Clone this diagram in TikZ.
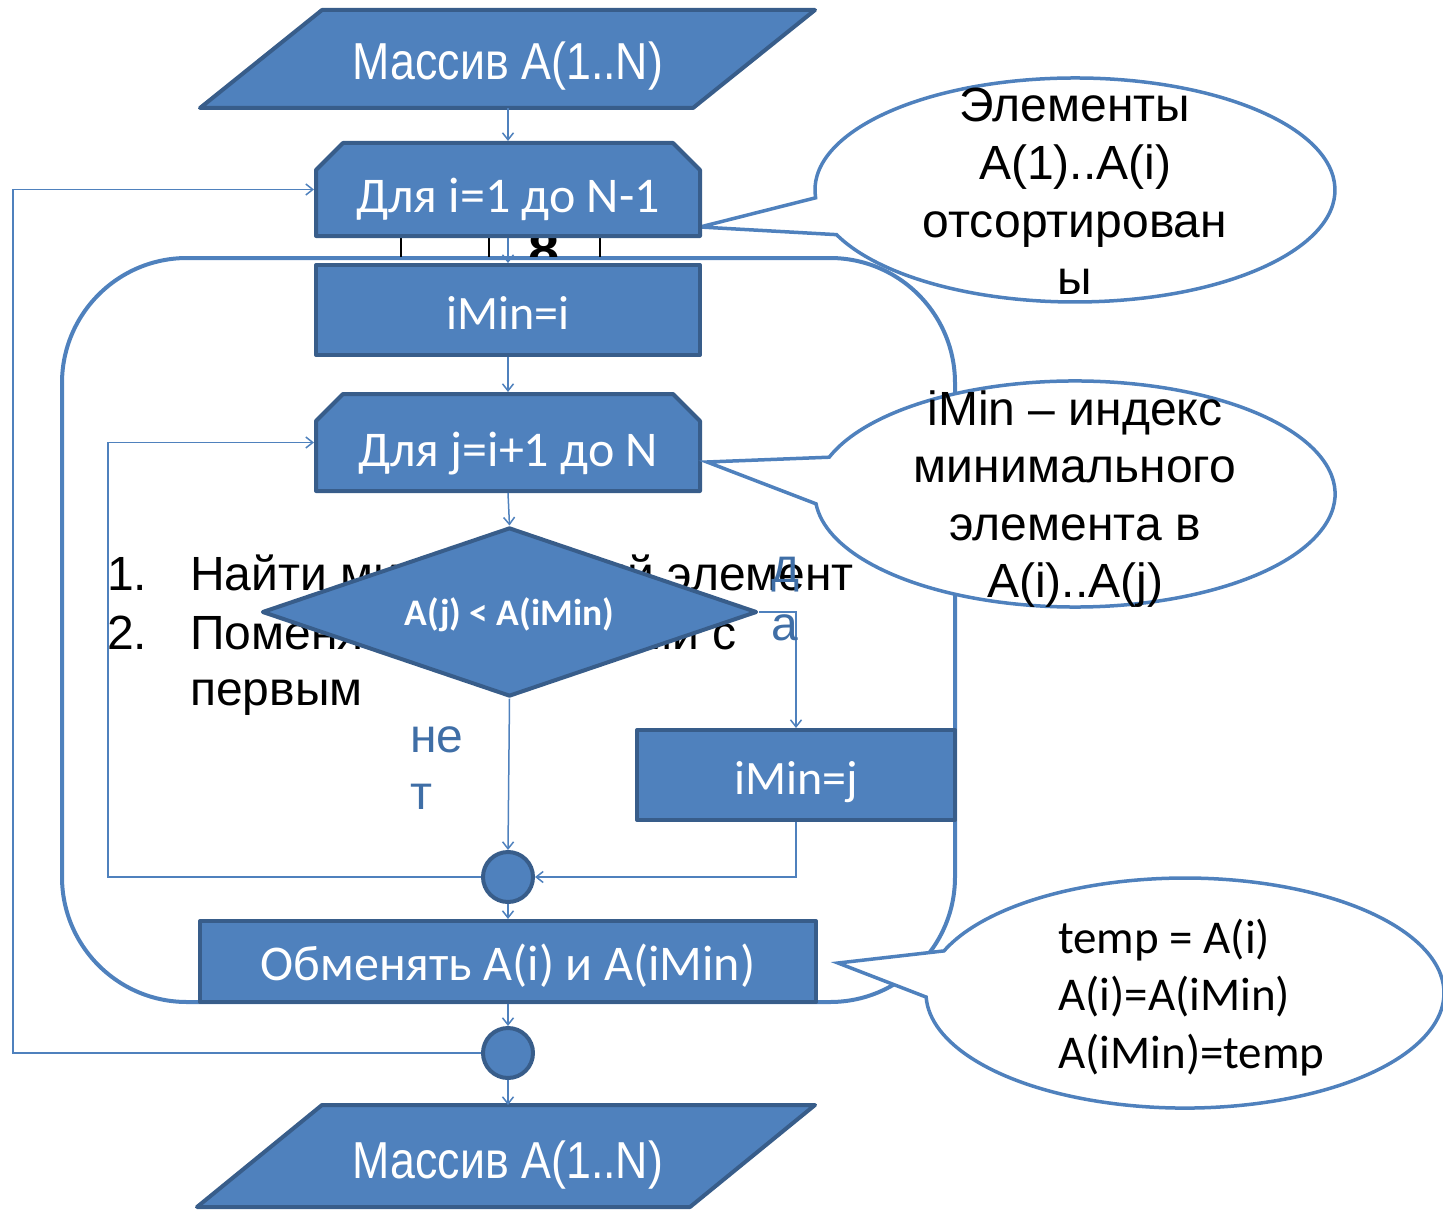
\documentclass[tikz,border=0pt]{standalone}
\usepackage{fontspec}
\setmainfont{Liberation Sans}
\newfontfamily\calfont{Carlito}
\newfontfamily\narrowfont[FakeStretch=0.86]{Liberation Sans}
\usetikzlibrary{shapes.geometric,shapes.misc,arrows.meta}
\pgfdeclarelayer{back}
\pgfsetlayers{back,main}
\definecolor{boxfill}{HTML}{4F81BD}
\definecolor{boxline}{HTML}{385D8A}
\definecolor{lblcol}{HTML}{3F6EA6}
\tikzset{
  blk/.style={draw=boxline, fill=boxfill, line width=4pt, line join=round},
  boxtxt/.style={text=white, inner sep=0pt, font=\calfont\fontsize{50}{60}\selectfont},
  smalltxt/.style={font=\calfont\fontsize{48}{57}\selectfont},
  procbox/.style={blk, boxtxt, rectangle},
  loopbox/.style={blk, boxtxt, chamfered rectangle, chamfered rectangle corners={north west,north east}, chamfered rectangle xsep=14pt, chamfered rectangle ysep=13pt},
  decbox/.style={blk, text=white, inner sep=0pt, diamond, shape aspect=2.93, font=\calfont\bfseries\fontsize{37.5}{44}\selectfont},
  joinpt/.style={blk, circle, minimum size=50pt, inner sep=0pt},
  tb/.style={text height=#1, text depth=0pt},
  conn/.style={draw=boxfill, line width=1.5pt, -{Straight Barb[length=7pt,width=11pt]}},
  bubble/.style={draw=boxfill, line width=3.5pt, fill=white},
  artxt/.style={inner sep=0pt, anchor=base, font=\fontsize{48}{57.5}\selectfont},
  caltxt/.style={inner sep=0pt, anchor=base west, font=\calfont\fontsize{47}{57}\selectfont},
  iotxt/.style={inner sep=0pt, anchor=base, text=white, font=\narrowfont\fontsize{52}{60}\selectfont},
  lbl/.style={inner sep=0pt, anchor=base west, text=lblcol, font=\fontsize{48}{57}\selectfont}
}
\begin{document}
\begin{tikzpicture}[x=1pt,y=-1pt]
\useasboundingbox (0,0) rectangle (1443,1212);

% ---------- background layer ----------
\begin{pgfonlayer}{back}
  % callout 1 (behind the loop frame)
  \path[bubble] (815.6,197.8) arc[start angle=-176, end angle=-516.5, x radius=260pt, y radius=112pt] -- (700,227) -- cycle;
  \node[artxt] (c1a) at (1075,122) {Элементы};
  \node[artxt] (c1b) at (1075,179.5) {A(1)..A(i)};
  \node[artxt] (c1c) at (1075,237) {отсортирован};
  \node[artxt] (c1d) at (1075,294.5) {ы};
  % outer loop frame
  \draw[draw=boxfill, line width=4pt, rounded corners=125pt] (62,258) rectangle (955,1002);
  % text hidden behind the decision
  \node[artxt, anchor=base west] (n1) at (107,590) {1.};
  \node[artxt, anchor=base west] (t1) at (190,590) {Найти минимальный элемент};
  \node[artxt, anchor=base west] (n2) at (107,649) {2.};
  \node[artxt, anchor=base west] (t2) at (190,649) {Поменять его местами с};
  \node[artxt, anchor=base west] (t3) at (190,705) {первым};
  % stray table fragment
  \draw[black, line width=2pt] (401,236) -- (401,257) (489,236) -- (489,257) (600,236) -- (600,257);
  \begin{scope}
    \clip (470,238) rectangle (620,256);
    \node[inner sep=0pt, anchor=base, font=\bfseries\fontsize{56}{60}\selectfont] (eight) at (544,269) {8};
  \end{scope}
\end{pgfonlayer}

% ---------- flowchart ----------
\path[blk] (322,10) -- (815,10) -- (693,108) -- (200,108) -- cycle;
\node[iotxt] (inA) at (508,80) {Массив A(1..N)};
\coordinate (inAs) at (508,108);

\node[loopbox, minimum width=384pt, minimum height=93pt, tb=45pt] (fori) at (508,189.5) {Для i=1 до N-1};
\node[procbox, smalltxt, minimum width=384pt, minimum height=90pt, tb=38pt] (imini) at (508,310) {iMin=i};
\node[loopbox, minimum width=384pt, minimum height=97pt, tb=47pt] (forj) at (508,442.5) {Для j=i+1 до N};
\node[decbox, minimum width=495pt, minimum height=169pt, tb=26pt] (cond) at (509.5,612) {A(j) < A(iMin)};
\node[procbox, smalltxt, minimum width=318pt, minimum height=90pt, tb=38pt] (iminj) at (796,775) {iMin=j};
\node[joinpt] (j1) at (508,877) {};
\node[procbox, minimum width=616pt, minimum height=81pt, tb=37pt] (swap) at (508,961.5) {Обменять A(i) и A(iMin)};
\node[joinpt] (j2) at (508,1053) {};

\path[blk] (322,1105) -- (815,1105) -- (690,1207) -- (197,1207) -- cycle;
\node[iotxt] (outA) at (508,1178) {Массив A(1..N)};
\coordinate (outAn) at (508,1105);

% connectors
\draw[conn] (inAs) -- (fori.north);
\draw[conn] (fori.south) -- (imini.north);
\draw[conn] (imini.south) -- (forj.north);
\draw[conn] (forj.south) -- (cond.north);
\draw[conn] (cond.east) -| (iminj.north);
\draw[conn] (cond.south) -- (j1.north);
\draw[conn] (iminj.south) |- (j1.east);
\draw[conn] (j1.west) -- (108,877) |- (forj.west);
\draw[conn] (j1.south) -- (swap.north);
\draw[conn] (swap.south) -- (j2.north);
\draw[conn] (j2.west) -- (13,1053) |- (fori.west);
\draw[conn] (j2.south) -- (outAn);

% callout 2
\path[bubble] (829.2,457.2) arc[start angle=-199, end angle=-535, x radius=260pt, y radius=113pt] -- (707,462) -- cycle;
\node[artxt] (c2a) at (1075,425) {iMin – индекс};
\node[artxt] (c2b) at (1075,482.5) {минимального};
\node[artxt] (c2c) at (1075,540) {элемента в};
\node[artxt] (c2d) at (1075,597.5) {A(i)..A(j)};

% callout 3
\path[bubble] (944.0,950.9) arc[start angle=-201.5, end angle=-538, x radius=259pt, y radius=115pt] -- (838,963) -- cycle;
\node[caltxt] (c3a) at (1058,953) {temp = A(i)};
\node[caltxt] (c3b) at (1058,1010) {A(i)=A(iMin)};
\node[caltxt] (c3c) at (1058,1068) {A(iMin)=temp};

% branch labels
\node[lbl] (yes1) at (771,582) {д};
\node[lbl] (yes2) at (771,640) {а};
\node[lbl] (no1) at (410,752) {не};
\node[lbl] (no2) at (410,809) {т};
\end{tikzpicture}
\end{document}
